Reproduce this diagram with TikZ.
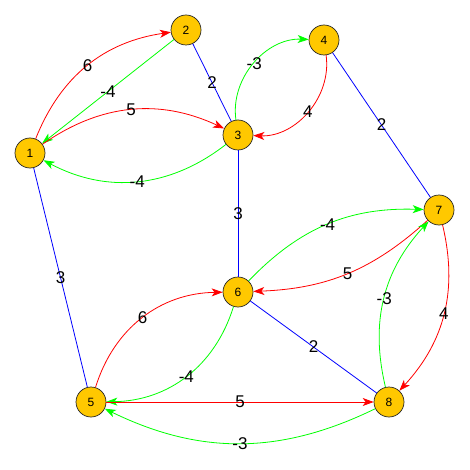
\documentclass[tikz,border=0pt]{standalone}
\usepackage{fontspec}
\setmainfont{Liberation Sans}
\usetikzlibrary{arrows.meta}
\definecolor{nodefill}{HTML}{FFC800}
\definecolor{gr}{HTML}{00FF00}
\begin{document}
\begin{tikzpicture}[x=1pt,y=-1pt,
  vtx/.style={circle,draw=black!85,fill=nodefill,minimum size=30pt,inner sep=0pt,line width=0.7pt,font=\fontsize{12}{12}\selectfont},
  arc/.style={-{Stealth[length=11pt,width=8pt,inset=3pt]},line width=0.8pt},
  redarc/.style={arc,draw=red},
  grarc/.style={arc,draw=gr},
  blueedge/.style={draw=blue,line width=0.8pt},
  lbl/.style={font=\fontsize{17}{17}\selectfont,inner sep=0pt,text=black}
]
\useasboundingbox (0,0) rectangle (469,470);
\node[vtx] (n1) at (30,153) {1};
\node[vtx] (n2) at (186,30) {2};
\node[vtx] (n3) at (238,135) {3};
\node[vtx] (n4) at (324,40) {4};
\node[vtx] (n5) at (91,402) {5};
\node[vtx] (n6) at (238,292) {6};
\node[vtx] (n7) at (439,210) {7};
\node[vtx] (n8) at (389,402) {8};
% undirected
\draw[blueedge] (n2) -- node[lbl]{2} (n3);
\draw[blueedge] (n3) -- node[lbl]{3} (n6);
\draw[blueedge] (n4) -- node[lbl]{2} (n7);
\draw[blueedge] (n1) -- node[lbl]{3} (n5);
\draw[blueedge] (n6) -- node[lbl]{2} (n8);
% directed
\draw[redarc] (n1) to[bend left=30] node[lbl]{6} (n2);
\draw[grarc] (n2) -- node[lbl]{-4} (n1);
\draw[redarc] (n1) to[bend left=30] node[lbl]{5} (n3);
\draw[grarc] (n3) to[bend left=33] node[lbl]{-4} (n1);
\draw[grarc] (n3) to[bend left=50] node[lbl]{-3} (n4);
\draw[redarc] (n4) to[bend left=50] node[lbl]{4} (n3);
\draw[grarc] (n6) to[bend left=24] node[lbl]{-4} (n7);
\draw[redarc] (n7) to[bend left=20] node[lbl]{5} (n6);
\draw[redarc] (n5) to[bend left=36] node[lbl]{6} (n6);
\draw[grarc] (n6) to[bend left=36] node[lbl]{-4} (n5);
\draw[redarc] (n5) -- node[lbl]{5} (n8);
\draw[grarc] (n8) to[bend left=26] node[lbl]{-3} (n5);
\draw[grarc] (n8) to[bend left=28] node[lbl]{-3} (n7);
\draw[redarc] (n7) to[bend left=28] node[lbl]{4} (n8);
\end{tikzpicture}
\end{document}
